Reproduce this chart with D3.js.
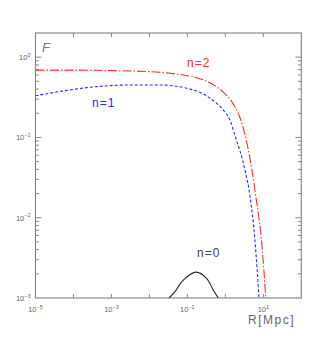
<!DOCTYPE html>
<html>
<head>
<meta charset="utf-8">
<script src="https://cdn.jsdelivr.net/npm/d3@7"></script>
<style>
  html, body { margin: 0; padding: 0; background: #fff; }
  svg { display: block; }
  text { font-family: "Liberation Sans", Arial, sans-serif; }
</style>
</head>
<body>
<div id="chart"></div>
<script>
// valores (R en Mpc, F adimensional)
const rN2 = [1e-5, 1e-4, 1e-3, 0.01, 0.035, 0.117, 0.39, 0.87, 1.47, 2.54, 4.03, 6.0, 9.4, 11.6];
const fN2 = [0.69, 0.69, 0.68, 0.66, 0.63, 0.58, 0.48, 0.37, 0.28, 0.166, 0.070, 0.022, 0.004, 0.001];

const rN1 = [1e-5, 5.4e-5, 4.1e-4, 3.1e-3, 0.019, 0.117, 0.39, 0.87, 1.32, 1.8, 3.3, 4.5, 6.0, 7.7];
const fN1 = [0.33, 0.38, 0.43, 0.45, 0.45, 0.40, 0.31, 0.22, 0.165, 0.105, 0.039, 0.018, 0.0053, 0.001];

const rN0 = [0.033, 0.047, 0.078, 0.169, 0.32, 0.48, 0.65];
const fN0 = [0.001, 0.0012, 0.00167, 0.0021, 0.00176, 0.00126, 0.001];

const xTickExp = [-5, -3, -1, 1];
const yTickExp = [0, -1, -2, -3];

const W = 324, H = 360;
const mLeft = 35.5, mRight = 301.3, mTop = 33, mBottom = 298;

const x = d3.scaleLog().domain([1e-5, 1e2]).range([mLeft, mRight]);
const y = d3.scaleLog().domain([1e-3, 2]).range([mBottom, mTop]);

const svg = d3.select('#chart').append('svg')
  .attr('width', W).attr('height', H);

const axisCol = '#8a8a8a';
const labCol = '#666';

// marco
svg.append('rect')
  .attr('x', mLeft).attr('y', mTop)
  .attr('width', mRight - mLeft).attr('height', mBottom - mTop)
  .attr('fill', 'none').attr('stroke', axisCol).attr('stroke-width', 1.2);

// ticks eje x (abajo y arriba, hacia dentro)
const xDecades = d3.range(-4, 2).map(e => Math.pow(10, e));
xDecades.forEach(v => {
  const len = 4;
  svg.append('line').attr('x1', x(v)).attr('x2', x(v))
    .attr('y1', mBottom).attr('y2', mBottom - len)
    .attr('stroke', axisCol).attr('stroke-width', 1);
  svg.append('line').attr('x1', x(v)).attr('x2', x(v))
    .attr('y1', mTop).attr('y2', mTop + len)
    .attr('stroke', axisCol).attr('stroke-width', 1);
});

// ticks eje y (izquierda y derecha)
const yTicks = [];
for (let e = -3; e <= 0; e++) {
  for (let m = 1; m <= 9; m++) {
    const v = m * Math.pow(10, e);
    if (v > 1e-3 && v < 2) yTicks.push({ v, major: m === 1 });
  }
}
yTicks.forEach(t => {
  const len = t.major ? 6 : 3.5;
  svg.append('line').attr('x1', mLeft).attr('x2', mLeft + len)
    .attr('y1', y(t.v)).attr('y2', y(t.v))
    .attr('stroke', axisCol).attr('stroke-width', 1);
  svg.append('line').attr('x1', mRight).attr('x2', mRight - len)
    .attr('y1', y(t.v)).attr('y2', y(t.v))
    .attr('stroke', axisCol).attr('stroke-width', 1);
});

// etiquetas con superindice
function powLabel(px, py, exp, anchor) {
  const t = svg.append('text')
    .attr('x', px).attr('y', py)
    .attr('text-anchor', anchor)
    .attr('font-size', 7.5)
    .attr('fill', labCol);
  t.append('tspan').text('10');
  t.append('tspan').attr('dy', -3.5).attr('font-size', 5.5)
    .text(exp < 0 ? '\u2212' + Math.abs(exp) : String(exp));
}
xTickExp.forEach(e => powLabel(x(Math.pow(10, e)), mBottom + 14, e, 'middle'));
yTickExp.forEach(e => powLabel(mLeft - 5, y(Math.pow(10, e)) + 3, e, 'end'));

// curvas
const line = d3.line()
  .x(d => x(d[0])).y(d => y(d[1]))
  .curve(d3.curveMonotoneX);

svg.append('defs').append('clipPath').attr('id', 'clip')
  .append('rect').attr('x', mLeft).attr('y', mTop)
  .attr('width', mRight - mLeft).attr('height', mBottom - mTop);

const g = svg.append('g').attr('clip-path', 'url(#clip)');

g.append('path').datum(d3.zip(rN2, fN2))
  .attr('d', line).attr('fill', 'none')
  .attr('stroke', '#ff2a2a').attr('stroke-width', 1.1)
  .attr('stroke-dasharray', '9,2,1.5,2');

g.append('path').datum(d3.zip(rN1, fN1))
  .attr('d', line).attr('fill', 'none')
  .attr('stroke', '#2a2aee').attr('stroke-width', 1.1)
  .attr('stroke-dasharray', '3,2');

g.append('path').datum(d3.zip(rN0, fN0))
  .attr('d', d3.line().x(d => x(d[0])).y(d => y(d[1])).curve(d3.curveCatmullRom))
  .attr('fill', 'none')
  .attr('stroke', '#222').attr('stroke-width', 1.1);

// textos
svg.append('text').attr('x', 42).attr('y', 52)
  .attr('font-size', 13).attr('fill', '#777')
  .attr('font-style', 'italic').text('F');

svg.append('text').attr('x', 187).attr('y', 67)
  .attr('font-size', 12).attr('fill', '#ff2a2a')
  .attr('letter-spacing', 1).text('n=2');

svg.append('text').attr('x', 92).attr('y', 107)
  .attr('font-size', 12).attr('fill', '#2a2aee')
  .attr('letter-spacing', 1).text('n=1');

svg.append('text').attr('x', 197).attr('y', 257)
  .attr('font-size', 12).attr('fill', '#444')
  .attr('letter-spacing', 1).text('n=0');

svg.append('text').attr('x', 248).attr('y', 324)
  .attr('font-size', 12).attr('fill', '#666')
  .attr('letter-spacing', 1.5).text('R[Mpc]');
</script>
</body>
</html>
